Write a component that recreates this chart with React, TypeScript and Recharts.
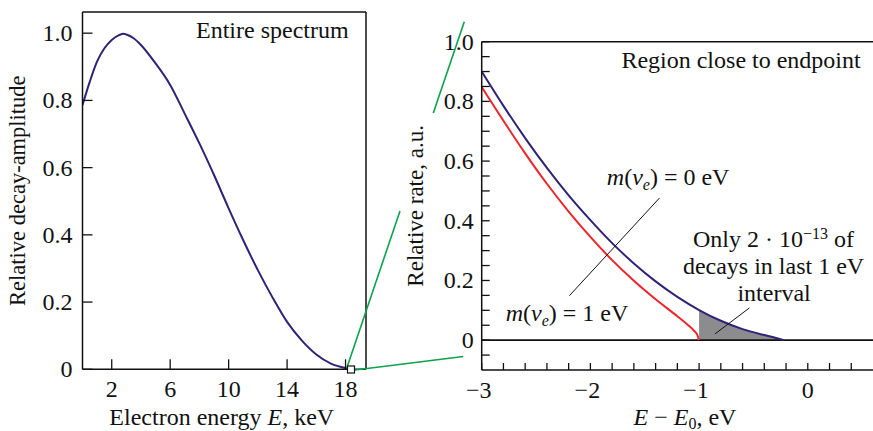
import React from 'react';
import { ComposedChart, LineChart, Line, Area, XAxis, YAxis, ReferenceLine, ReferenceDot } from 'recharts';

const SERIF = '"Liberation Serif", "DejaVu Serif", serif';
const INK = '#111';
const BLUE = '#2f2378';
const RED = '#f0242a';
const GREEN = '#0aa24c';
const SHADE = '#8c8c8e';

// left panel: whole tritium spectrum (keV -> relative amplitude)
const spectrumKeV = [0, 0.5, 1, 1.5, 2, 2.5, 2.8, 3, 3.5, 4, 5, 6, 7, 8, 9, 10, 11, 12, 13, 14, 15, 16, 17, 18, 18.6];
const spectrumAmp = [0.786, 0.856, 0.916, 0.955, 0.98, 0.994, 0.998, 0.996, 0.985, 0.965, 0.91, 0.846, 0.76, 0.672, 0.578, 0.479, 0.384, 0.295, 0.214, 0.141, 0.086, 0.044, 0.017, 0.004, 0];

const leftXTicks = [2, 6, 10, 14, 18];
const leftYTicks = [0, 0.2, 0.4, 0.6, 0.8, 1.0];
const leftYLabels = ['0', '0.2', '0.4', '0.6', '0.8', '1.0'];

// right panel: last few eV below the endpoint
const masslessE = [-3, -2.8, -2.6, -2.4, -2.2, -2.0, -1.8, -1.6, -1.4, -1.2, -1.0, -0.8, -0.6, -0.4, -0.3, -0.22];
const masslessRate = [0.9, 0.785, 0.677, 0.577, 0.485, 0.402, 0.325, 0.257, 0.197, 0.145, 0.101, 0.065, 0.037, 0.017, 0.008, 0];
const massiveE = [-3, -2.8, -2.6, -2.4, -2.2, -2.0, -1.8, -1.6, -1.4, -1.2, -1.1, -1.05, -1.02, -1.0];
const massiveRate = [0.848, 0.735, 0.626, 0.524, 0.431, 0.346, 0.268, 0.199, 0.137, 0.08, 0.05, 0.033, 0.02, 0];
const shadeFrom = -1.0;

const rightXTicks = [-3, -2.8, -2.6, -2.4, -2.2, -2, -1.8, -1.6, -1.4, -1.2, -1, -0.8, -0.6, -0.4, -0.2, 0, 0.2, 0.4];
const rightXMajor = [-3, -2, -1, 0];
const rightXLabels = ['\u22123', '\u22122', '\u22121', '0'];
const rightYTicks = [-0.05, 0, 0.05, 0.1, 0.15, 0.2, 0.25, 0.3, 0.35, 0.4, 0.45, 0.5, 0.55, 0.6, 0.65, 0.7, 0.75, 0.8, 0.85, 0.9, 0.95, 1.0];
const rightYMajor = [0, 0.2, 0.4, 0.6, 0.8, 1.0];
const rightYLabels = ['0', '0.2', '0.4', '0.6', '0.8', '1.0'];

const leftRows = spectrumKeV.map((e, i) => ({ e, amp: spectrumAmp[i] }));

const allE = Array.from(new Set([...masslessE, ...massiveE])).sort((a, b) => a - b);
const rightRows = allE.map((e) => {
  const bi = masslessE.indexOf(e);
  const ri = massiveE.indexOf(e);
  const blue = bi >= 0 ? masslessRate[bi] : null;
  return {
    e,
    m0: blue,
    m1: ri >= 0 ? massiveRate[ri] : null,
    shade: blue !== null && e >= shadeFrom ? blue : null,
  };
});

const txt = { fontFamily: SERIF, fontSize: 24, fill: INK } as const;

const findIdx = (arr: number[], v: number) => arr.findIndex((m) => Math.abs(m - v) < 1e-6);

function makeYTick(len: number, gap: number, majors: number[], labels: string[]) {
  return (props: any) => {
    const { x, y, payload } = props;
    const i = findIdx(majors, payload.value);
    return (
      <g>
        <line x1={x} x2={x + len} y1={y} y2={y} stroke={INK} strokeWidth={1.3} />
        {i >= 0 && (
          <text x={x - gap} y={y + 8} textAnchor="end" {...txt}>
            {labels[i]}
          </text>
        )}
      </g>
    );
  };
}

function makeXTick(len: number, majors: number[], labels: string[]) {
  return (props: any) => {
    const { x, y, payload } = props;
    const i = findIdx(majors, payload.value);
    const shift = i >= 0 && labels[i].startsWith('\u2212') ? -3 : 0;
    return (
      <g>
        <line x1={x} x2={x} y1={y} y2={y - len} stroke={INK} strokeWidth={1.3} />
        {i >= 0 && (
          <text x={x + shift} y={y + 27.5} textAnchor="middle" {...txt}>
            {labels[i]}
          </text>
        )}
      </g>
    );
  };
}

// text placed at a data point (baseline, centred)
const note = (body: React.ReactNode) => (props: any) => {
  const vb = props.viewBox;
  return (
    <text x={vb.x + vb.width / 2} y={vb.y + vb.height / 2} textAnchor="middle" {...txt}>
      {body}
    </text>
  );
};

const massLabel = (value: string) => (
  <>
    <tspan fontStyle="italic">m</tspan>
    <tspan>(</tspan>
    <tspan fontStyle="italic">ν</tspan>
    <tspan fontStyle="italic" fontSize={16} dy={5}>e</tspan>
    <tspan dy={-5}>) = {value} eV</tspan>
  </>
);

function EntireSpectrum() {
  return (
    <LineChart width={380} height={431} data={leftRows} margin={{ top: 12, right: 14, bottom: 0, left: 0 }}>
      <XAxis
        dataKey="e"
        type="number"
        domain={[0, 19.4]}
        allowDataOverflow
        ticks={leftXTicks}
        interval={0}
        height={61.7}
        tickSize={0}
        tickMargin={0}
        tickLine={false}
        stroke={INK}
        strokeWidth={1.5}
        tick={makeXTick(10, leftXTicks, leftXTicks.map(String))}
        label={(p: any) => (
          <text x={p.viewBox.x + p.viewBox.width / 2 - 2.5} y={p.viewBox.y + 55.5} textAnchor="middle" {...txt}>
            Electron energy <tspan fontStyle="italic">E</tspan>, keV
          </text>
        )}
      />
      <YAxis
        type="number"
        domain={[0, 1.063]}
        allowDataOverflow
        ticks={leftYTicks}
        interval={0}
        width={82.5}
        tickSize={0}
        tickMargin={0}
        tickLine={false}
        stroke={INK}
        strokeWidth={1.5}
        tick={makeYTick(10, 10, leftYTicks, leftYLabels)}
        label={(p: any) => {
          const cy = p.viewBox.y + p.viewBox.height / 2;
          return (
            <text x={25} y={cy} transform={`rotate(-90, 25, ${cy})`} textAnchor="middle" {...txt} fontSize={22.5}>
              Relative decay-amplitude
            </text>
          );
        }}
      />
      <ReferenceLine y={1.063} stroke={INK} strokeWidth={1.5} />
      <ReferenceLine x={19.4} stroke={INK} strokeWidth={1.5} />
      <Line type="monotone" dataKey="amp" stroke={BLUE} strokeWidth={2} dot={false} activeDot={false} isAnimationActive={false} />
      <ReferenceDot x={12.99} y={0.985} r={0} fill="none" stroke="none" label={note('Entire spectrum')} />
    </LineChart>
  );
}

function NearEndpoint() {
  return (
    <ComposedChart width={493} height={431} data={rightRows} margin={{ top: 41.7, right: 0, bottom: 0, left: 0 }}>
      <XAxis
        dataKey="e"
        type="number"
        domain={[-3, 0.6]}
        allowDataOverflow
        ticks={rightXTicks}
        interval={0}
        height={61}
        tickSize={0}
        tickMargin={0}
        tickLine={false}
        stroke={INK}
        strokeWidth={1.5}
        tick={makeXTick(7, rightXMajor, rightXLabels)}
        label={(p: any) => (
          <text x={685 - 380} y={p.viewBox.y + 55} textAnchor="middle" {...txt}>
            <tspan fontStyle="italic">E</tspan>
            <tspan> − </tspan>
            <tspan fontStyle="italic">E</tspan>
            <tspan fontSize={16} dy={4}>0</tspan>
            <tspan dy={-4}>, eV</tspan>
          </text>
        )}
      />
      <YAxis
        type="number"
        domain={[-0.1, 1.0]}
        allowDataOverflow
        ticks={rightYTicks}
        interval={0}
        width={101.7}
        tickSize={0}
        tickMargin={0}
        tickLine={false}
        stroke={INK}
        strokeWidth={1.5}
        tick={makeYTick(8, 8, rightYMajor, rightYLabels)}
        label={(p: any) => {
          const cy = p.viewBox.y + p.viewBox.height / 2;
          return (
            <text x={43.5} y={cy} transform={`rotate(-90, 43.5, ${cy})`} textAnchor="middle" {...txt} fontSize={23}>
              Relative rate, a.u.
            </text>
          );
        }}
      />
      <ReferenceLine y={1.0} stroke={INK} strokeWidth={1.5} />
      <Area type="monotone" dataKey="shade" baseValue={0} stroke="none" fill={SHADE} fillOpacity={1} isAnimationActive={false} />
      <ReferenceLine y={0} stroke={INK} strokeWidth={1.8} />
      <Line type="monotone" dataKey="m1" stroke={RED} strokeWidth={2} dot={false} activeDot={false} connectNulls isAnimationActive={false} />
      <Line type="monotone" dataKey="m0" stroke={BLUE} strokeWidth={2} dot={false} activeDot={false} connectNulls isAnimationActive={false} />
      <ReferenceLine segment={[{ x: -1.365, y: 0.476 }, { x: -2.193, y: 0.149 }]} stroke={INK} strokeWidth={1} />
      <ReferenceLine segment={[{ x: -0.537, y: 0.108 }, { x: -0.853, y: 0.021 }]} stroke={INK} strokeWidth={1} />
      <ReferenceDot x={-0.614} y={0.912} r={0} fill="none" stroke="none" label={note('Region close to endpoint')} />
      <ReferenceDot x={-1.285} y={0.521} r={0} fill="none" stroke="none" label={note(massLabel('0'))} />
      <ReferenceDot x={-2.215} y={0.0635} r={0} fill="none" stroke="none" label={note(massLabel('1'))} />
      <ReferenceDot
        x={-0.316}
        y={0.312}
        r={0}
        fill="none"
        stroke="none"
        label={note(
          <>
            Only 2 · 10<tspan fontSize={16} dy={-8}>−13</tspan>
            <tspan dy={8}> of</tspan>
          </>
        )}
      />
      <ReferenceDot x={-0.315} y={0.22} r={0} fill="none" stroke="none" label={note('decays in last 1 eV')} />
      <ReferenceDot x={-0.31} y={0.13} r={0} fill="none" stroke="none" label={note('interval')} />
    </ComposedChart>
  );
}

export default function App() {
  return (
    <div style={{ position: 'absolute', left: 0, top: 0, width: 873, height: 431, background: '#fff', overflow: 'hidden' }}>
      <div style={{ position: 'absolute', left: 0, top: 0 }}>
        <EntireSpectrum />
      </div>
      <div style={{ position: 'absolute', left: 380, top: 0 }}>
        <NearEndpoint />
      </div>
      {/* zoom-in guide lines between the two panels */}
      <svg width={873} height={431} style={{ position: 'absolute', left: 0, top: 0, pointerEvents: 'none' }}>
        <line x1={346.7} y1={368.3} x2={400} y2={211} stroke={GREEN} strokeWidth={1.6} />
        <line x1={433.3} y1={113} x2={464.3} y2={21.7} stroke={GREEN} strokeWidth={1.6} />
        <line x1={355} y1={370} x2={463.3} y2={356.5} stroke={GREEN} strokeWidth={1.6} />
        <rect x={347.5} y={366} width={7} height={7} fill="#fff" stroke={INK} strokeWidth={1.2} />
      </svg>
    </div>
  );
}
